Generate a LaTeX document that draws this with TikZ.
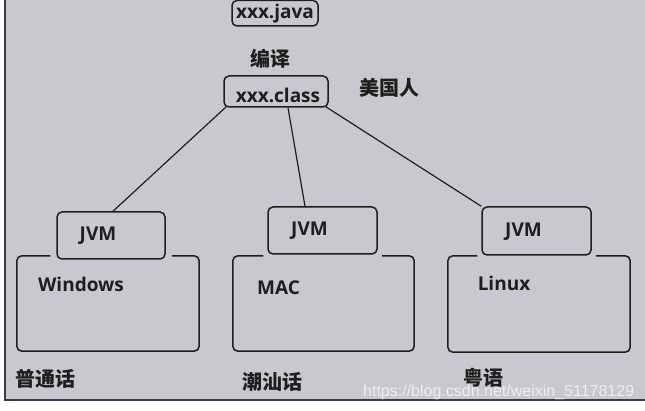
\documentclass[tikz,border=0pt]{standalone}
\usepackage{fontspec}
\setmainfont{Open Sans}
\setsansfont{Liberation Sans}
\newfontfamily\cjk{Noto Sans CJK SC}
\usetikzlibrary{calc}
\definecolor{bg}{HTML}{C8C9CE}
\definecolor{ink}{HTML}{1E1E1E}
\definecolor{frame}{HTML}{3A3B48}
\definecolor{wm}{HTML}{EEEEF2}
\begin{document}
\begin{tikzpicture}[x=1pt,y=-1pt,
  box/.style={draw=ink, line width=1.5pt, rounded corners=5pt, inner sep=0pt},
  osbox/.style={inner sep=0pt},
  osline/.style={draw=ink, line width=1.5pt, rounded corners=5pt},
  lbl/.style={font=\fontsize{19}{22}\selectfont\bfseries, text=ink, inner sep=0pt, anchor=base},
  zh/.style={font=\fontsize{20}{24}\selectfont\cjk\bfseries, text=ink, inner sep=0pt},
  conn/.style={draw=ink, line width=1.2pt}]
\useasboundingbox (0,0) rectangle (645,411);
\fill[white] (0,0) rectangle (645,411);
\fill[bg] (5,0) rectangle (645,400);
\draw[frame, line width=1.6pt] (5,0) -- (5,400) -- (645,400);

% boxes
\node[box, minimum width=86pt, minimum height=25.5pt] (java) at (275,13.25) {};
\node[box, minimum width=104pt, minimum height=31pt] (cls) at (276,91.5) {};
\node[box, minimum width=108pt, minimum height=47pt] (jvm1) at (111,235.5) {};
\node[box, minimum width=109pt, minimum height=47pt] (jvm2) at (322.5,230.5) {};
\node[box, minimum width=109pt, minimum height=48pt] (jvm3) at (536.5,231) {};
\node[osbox, minimum width=182pt, minimum height=95pt] (win) at (108,303.5) {};
\node[osbox, minimum width=181pt, minimum height=95pt] (mac) at (323.5,303.5) {};
\node[osbox, minimum width=182pt, minimum height=96pt] (lin) at (539,304) {};

% OS outlines with gap at the JVM box
\draw[osline] ($(win.north -| jvm1.west)+(-6,0)$) -- (win.north west) -- (win.south west) -- (win.south east) -- (win.north east) -- ($(win.north -| jvm1.east)+(6,0)$);
\draw[osline] ($(mac.north -| jvm2.west)+(-4,0)$) -- (mac.north west) -- (mac.south west) -- (mac.south east) -- (mac.north east) -- ($(mac.north -| jvm2.east)+(4,0)$);
\draw[osline] ($(lin.north -| jvm3.west)+(-4,0)$) -- (lin.north west) -- (lin.south west) -- (lin.south east) -- (lin.north east) -- ($(lin.north -| jvm3.east)+(4,0)$);

% connectors
\draw[conn] ($(cls.south west)+(3,-1)$) -- ($(jvm1.north)+(2,0)$);
\draw[conn] ($(cls.south)+(12,0)$) -- ($(jvm2.north)+(-17.5,0)$);
\draw[conn] ($(cls.south east)+(-3,-1)$) -- (jvm3.north west);

% labels
\node[lbl] (javat) at (275,19) {xxx.java};
\node[lbl] (clst) at (278,103) {xxx.class};
\node[lbl] (jvm1t) at (98,241) {JVM};
\node[lbl] (jvm2t) at (309.5,236) {JVM};
\node[lbl] (jvm3t) at (523.5,237) {JVM};
\node[lbl] (wint) at (81,292) {Windows};
\node[lbl] (mact) at (278.5,295) {MAC};
\node[lbl] (lint) at (504,291) {Linux};

\node[zh] (bianyi) at (270.5,58.5) {编译};
\node[zh] (mgr) at (389.5,88) {美国人};
\node[zh] (pth) at (45.5,378.5) {普通话};
\node[zh] (csh) at (272.5,381.5) {潮汕话};
\node[zh] (yy) at (483.5,378) {粤语};

% watermark
\node[font=\sffamily\fontsize{16}{18}\selectfont, text=wm, inner sep=0pt, anchor=base west] (wmk) at (363,396) {https://blog.csdn.net/weixin\_51178129};
\end{tikzpicture}
\end{document}
